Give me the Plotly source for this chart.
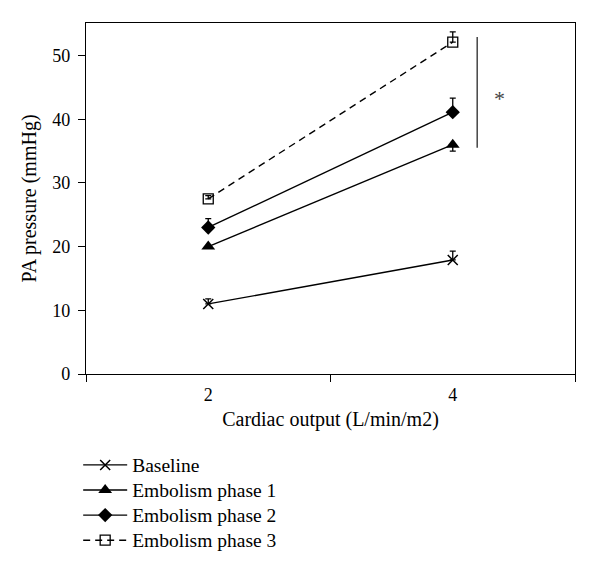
import plotly.graph_objects as go

categories = ["2", "4"]
series_names = ["Baseline", "Embolism phase 1", "Embolism phase 2", "Embolism phase 3"]
baseline = [11.0, 17.9]
phase1 = [20.0, 36.0]
phase2 = [23.0, 41.1]
phase3 = [27.5, 52.1]
err_up = {
    "Baseline": [0.8, 1.4],
    "Embolism phase 1": [0.0, 0.0],
    "Embolism phase 2": [1.4, 2.2],
    "Embolism phase 3": [0.5, 1.6],
}
err_down = {
    "Baseline": [0.0, 0.0],
    "Embolism phase 1": [0.0, 1.0],
    "Embolism phase 2": [0.0, 0.0],
    "Embolism phase 3": [0.0, 0.0],
}
y_ticks = [0, 10, 20, 30, 40, 50]
sig_range = [35.5, 52.9]
sig_label_y = 43.3

FONT = "Liberation Serif"
values = [baseline, phase1, phase2, phase3]
markers = [
    dict(symbol="x-thin-open", size=10, line=dict(width=1.5, color="black")),
    dict(symbol="triangle-up", size=12),
    dict(symbol="diamond", size=11),
    dict(symbol="square-open", size=10, line=dict(width=1.3, color="black")),
]
dashes = ["solid", "solid", "solid", "7px,5px"]

fig = go.Figure()
for name, vals, mk, dash in zip(series_names, values, markers, dashes):
    fig.add_trace(go.Scatter(
        x=categories, y=vals, mode="lines+markers",
        name='<span style="font-size:19.5px">' + name + '</span>',
        line=dict(color="black", width=1.4, dash=dash),
        marker=dict(color="black", **mk),
        error_y=dict(type="data", symmetric=False, array=err_up[name],
                     arrayminus=err_down[name], color="black", thickness=1.3, width=3),
    ))

# significance bar
fig.add_shape(type="line", xref="x", yref="y", x0=1.1, x1=1.1,
              y0=sig_range[0], y1=sig_range[1], line=dict(color="#444", width=1.5))
fig.add_annotation(x=1.19, y=sig_label_y, xref="x", yref="y",
                   text="*", showarrow=False, font=dict(family=FONT, size=22, color="#444"))

fig.update_layout(
    width=584, height=556,
    margin=dict(l=78, r=17, t=15, b=190, autoexpand=False),
    paper_bgcolor="white", plot_bgcolor="white",
    font=dict(family=FONT, size=18, color="black"),
    showlegend=True,
    legend=dict(x=-0.016, y=-0.209, xanchor="left", yanchor="top",
                font=dict(family=FONT, size=17, color="black"), tracegroupgap=0,
                itemwidth=44, bgcolor="rgba(0,0,0,0)"),
    xaxis=dict(type="category", range=[-0.5, 1.5], tickson="boundaries",
               ticks="outside", ticklen=7, tickwidth=1.3, tickcolor="black",
               ticklabelstandoff=4,
               showline=True, linecolor="black", linewidth=1.3, mirror=True,
               showgrid=False, zeroline=False,
               tickfont=dict(family=FONT, size=18, color="black"),
               title=dict(text="Cardiac output (L/min/m2)",
                          font=dict(family=FONT, size=20, color="black"), standoff=8)),
    yaxis=dict(range=[0, 55.1], tickvals=y_ticks, ticks="outside", ticklen=7,
               tickwidth=1.3, tickcolor="black", ticklabelstandoff=4,
               showline=True, linecolor="black", linewidth=1.3, mirror=True,
               showgrid=False, zeroline=False,
               tickfont=dict(family=FONT, size=18, color="black"),
               title=dict(text="PA pressure (mmHg)",
                          font=dict(family=FONT, size=20, color="black"), standoff=10)),
)

fig.write_html("out.html")
